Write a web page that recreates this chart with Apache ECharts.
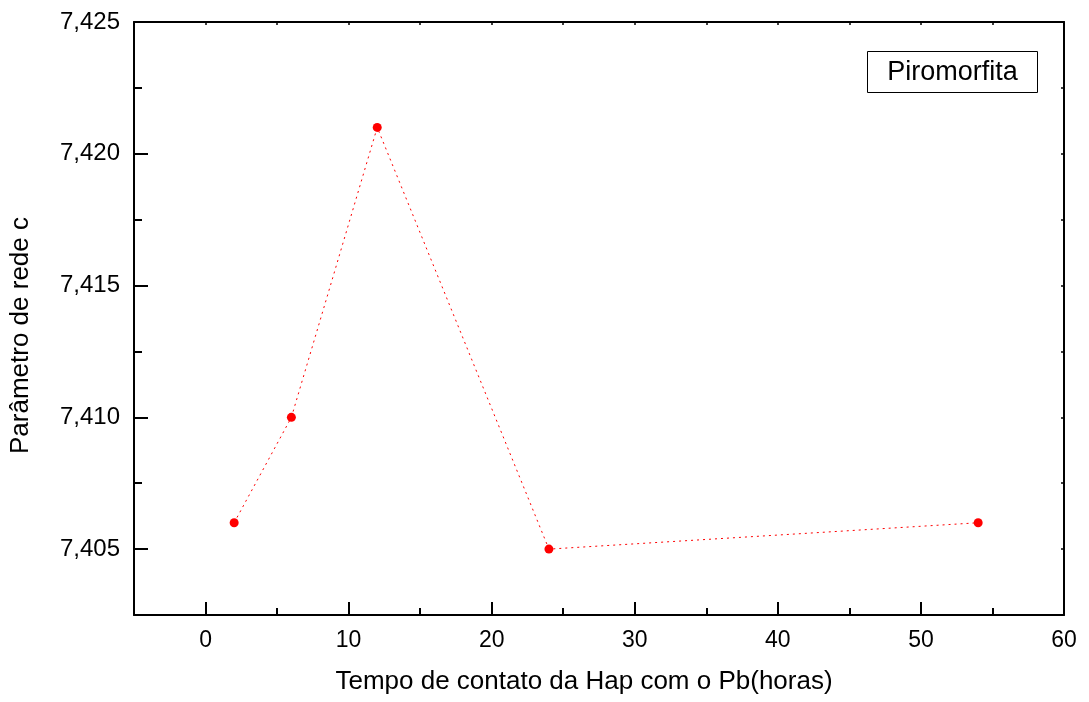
<!DOCTYPE html>
<html>
<head>
<meta charset="utf-8">
<script src="https://cdn.jsdelivr.net/npm/echarts@6/dist/echarts.min.js"></script>
<style>html,body{margin:0;padding:0;background:#fff}#c{width:1089px;height:702px}</style>
</head>
<body>
<div id="c"></div>
<script>
var xValues = [2, 6, 12, 24, 54];
var yValues = [7.406, 7.410, 7.421, 7.405, 7.406];
var xMajorTicks = [0, 10, 20, 30, 40, 50, 60];
var xMinorTicks = [-5, 5, 15, 25, 35, 45, 55];
var yMajorTicks = [7.405, 7.410, 7.415, 7.420, 7.425];
var yMinorTicks = [7.4025, 7.4075, 7.4125, 7.4175, 7.4225];
var seriesName = 'Piromorfita';
var xTitle = 'Tempo de contato da Hap com o Pb(horas)';
var yTitle = 'Parâmetro de rede c';

var FONT = 'Liberation Sans, Arial, sans-serif';
var allX = xMajorTicks.concat(xMinorTicks).sort(function(a,b){return a-b;});
var allY = yMajorTicks.concat(yMinorTicks).sort(function(a,b){return a-b;});
var axLine = {show: true, onZero: false, lineStyle: {color: '#000', width: 2}};
var noLine = {show: false, onZero: false};
var xRange = {min: -5, max: 60};
var yRange = {min: 7.4025, max: 7.425};

var chart = echarts.init(document.getElementById('c'));
chart.setOption({
  animation: false,
  backgroundColor: '#fff',
  grid: {left: 134, right: 25, top: 22, bottom: 87, containLabel: false},
  xAxis: [
    Object.assign({type: 'value', position: 'bottom', name: xTitle, nameLocation: 'middle', nameGap: 54,
      nameTextStyle: {fontFamily: FONT, fontSize: 26, color: '#000', padding: [0, 30, 0, 0]},
      axisLine: axLine, splitLine: {show: false},
      axisTick: {show: true, inside: true, length: 13, customValues: xMajorTicks, lineStyle: {color: '#000', width: 2}},
      axisLabel: {customValues: xMajorTicks, fontFamily: FONT, fontSize: 23, color: '#000', margin: 14}}, xRange),
    Object.assign({type: 'value', position: 'bottom', gridIndex: 0,
      axisLine: noLine, splitLine: {show: false}, axisLabel: {show: false},
      axisTick: {show: true, inside: true, length: 7, customValues: xMinorTicks, lineStyle: {color: '#000', width: 2}}}, xRange),
    Object.assign({type: 'value', position: 'top',
      axisLine: axLine, splitLine: {show: false}, axisLabel: {show: false},
      axisTick: {show: true, inside: true, length: 3, customValues: allX, lineStyle: {color: '#000', width: 1.5}}}, xRange)
  ],
  yAxis: [
    Object.assign({type: 'value', position: 'left', name: yTitle, nameLocation: 'middle', nameGap: 100, nameRotate: 90,
      nameTextStyle: {fontFamily: FONT, fontSize: 26, color: '#000', padding: [0, 34, 0, 0]},
      axisLine: axLine, splitLine: {show: false},
      axisTick: {show: true, inside: true, length: 14, customValues: yMajorTicks, lineStyle: {color: '#000', width: 2}},
      axisLabel: {customValues: yMajorTicks, fontFamily: FONT, fontSize: 24, color: '#000', margin: 14,
        formatter: function(v){ return v.toFixed(3).replace('.', ','); }}}, yRange),
    Object.assign({type: 'value', position: 'left', gridIndex: 0,
      axisLine: noLine, splitLine: {show: false}, axisLabel: {show: false},
      axisTick: {show: true, inside: true, length: 8, customValues: yMinorTicks, lineStyle: {color: '#000', width: 2}}}, yRange),
    Object.assign({type: 'value', position: 'right',
      axisLine: axLine, splitLine: {show: false}, axisLabel: {show: false},
      axisTick: {show: true, inside: true, length: 3, customValues: allY, lineStyle: {color: '#000', width: 1.5}}}, yRange)
  ],
  series: [{
    name: seriesName,
    type: 'line',
    xAxisIndex: 0, yAxisIndex: 0,
    data: xValues.map(function(x, i){ return [x, yValues[i]]; }),
    symbol: 'circle', symbolSize: 9,
    itemStyle: {color: '#ff0000'},
    lineStyle: {color: '#ff0000', width: 1, type: [2, 4]},
    z: 5
  }],
  graphic: [{
    type: 'group', left: 867, top: 51,
    children: [
      {type: 'rect', shape: {x: 0, y: 0, width: 170, height: 41}, style: {fill: '#fff', stroke: '#000', lineWidth: 1}},
      {type: 'text', x: 85, y: 21, style: {text: seriesName, fontFamily: FONT, fontSize: 27, fill: '#000', align: 'center', verticalAlign: 'middle'}}
    ]
  }]
});
</script>
</body>
</html>
